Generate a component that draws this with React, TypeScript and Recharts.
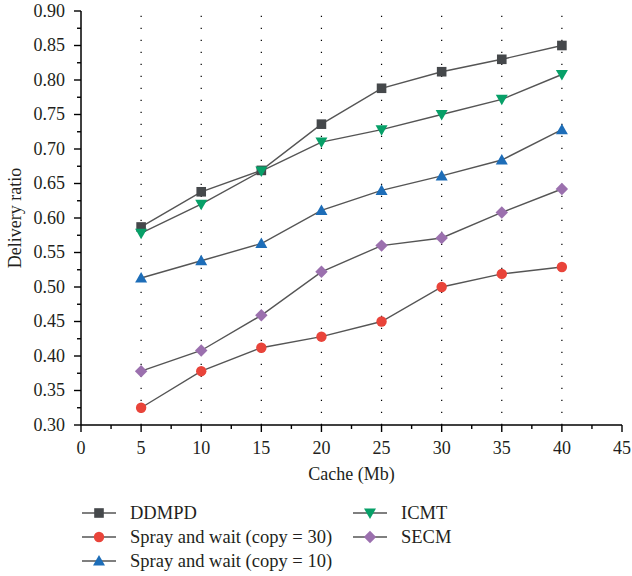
import React from "react";
import { LineChart, Line, XAxis, YAxis, ReferenceLine } from "recharts";

// ---- data ----
const cache = [5, 10, 15, 20, 25, 30, 35, 40];
const ddmpd = [0.587, 0.638, 0.669, 0.736, 0.788, 0.812, 0.83, 0.85];
const spray30 = [0.325, 0.378, 0.412, 0.428, 0.45, 0.5, 0.519, 0.529];
const spray10 = [0.513, 0.538, 0.563, 0.611, 0.64, 0.661, 0.684, 0.728];
const icmt = [0.578, 0.62, 0.668, 0.71, 0.728, 0.75, 0.772, 0.808];
const secm = [0.378, 0.408, 0.459, 0.522, 0.56, 0.571, 0.608, 0.642];

const xTicks = [0, 2.5, 5, 7.5, 10, 12.5, 15, 17.5, 20, 22.5, 25, 27.5, 30, 32.5, 35, 37.5, 40, 42.5, 45];
const yTicks = [
    0.3, 0.325, 0.35, 0.375, 0.4, 0.425, 0.45, 0.475, 0.5, 0.525, 0.55, 0.575, 0.6,
    0.625, 0.65, 0.675, 0.7, 0.725, 0.75, 0.775, 0.8, 0.825, 0.85, 0.875, 0.9,
];
const gridX = [5, 10, 15, 20, 25, 30, 35, 40];

type Shape = "square" | "circle" | "up" | "down" | "diamond";

const series: { key: string; name: string; values: number[]; color: string; shape: Shape }[] = [
    { key: "ddmpd", name: "DDMPD", values: ddmpd, color: "#45484b", shape: "square" },
    { key: "spray30", name: "Spray and wait (copy = 30)", values: spray30, color: "#e9443a", shape: "circle" },
    { key: "spray10", name: "Spray and wait (copy = 10)", values: spray10, color: "#1d6db8", shape: "up" },
    { key: "icmt", name: "ICMT", values: icmt, color: "#07a068", shape: "down" },
    { key: "secm", name: "SECM", values: secm, color: "#9b70ae", shape: "diamond" },
];

const data = cache.map((c, i) => {
    const row: Record<string, number> = { cache: c };
    series.forEach((s) => (row[s.key] = s.values[i]));
    return row;
});

const FONT = "'Liberation Serif', 'Times New Roman', serif";
const TXT = "#231f20";

const isMajorX = (v: number) => v % 5 === 0;
const isMajorY = (v: number) => Math.abs(v * 20 - Math.round(v * 20)) < 1e-6;

// ---- markers ----
const Marker = ({ cx, cy, shape, color }: { cx: number; cy: number; shape: Shape; color: string }) => {
    if (cx == null || cy == null) return null;
    switch (shape) {
        case "square":
            return <rect x={cx - 4.8} y={cy - 4.8} width={9.6} height={9.6} fill={color} />;
        case "circle":
            return <circle cx={cx} cy={cy} r={5.2} fill={color} />;
        case "up":
            return <polygon points={`${cx},${cy - 6} ${cx - 6},${cy + 4.5} ${cx + 6},${cy + 4.5}`} fill={color} />;
        case "down":
            return <polygon points={`${cx},${cy + 6} ${cx - 6},${cy - 4.5} ${cx + 6},${cy - 4.5}`} fill={color} />;
        default:
            return <polygon points={`${cx},${cy - 6.2} ${cx + 6.2},${cy} ${cx},${cy + 6.2} ${cx - 6.2},${cy}`} fill={color} />;
    }
};

// ---- axis ticks ----
const BottomTick = (p: any) => {
    const v = p.payload.value;
    const major = isMajorX(v);
    return (
        <g>
            <line x1={p.x} y1={p.y} x2={p.x} y2={p.y + (major ? 7 : 4)} stroke="#000" strokeWidth={1.4} />
            {major && (
                <text x={p.x} y={p.y + 29} textAnchor="middle" fontFamily={FONT} fontSize={18} fill={TXT}>
                    {v}
                </text>
            )}
        </g>
    );
};

const TopTick = (p: any) => {
    const major = isMajorX(p.payload.value);
    return <line x1={p.x} y1={p.y} x2={p.x} y2={p.y + (major ? 6 : 4)} stroke="#000" strokeWidth={1.4} />;
};

const LeftTick = (p: any) => {
    const v = p.payload.value;
    const major = isMajorY(v);
    return (
        <g>
            <line x1={p.x - (major ? 7 : 4)} y1={p.y} x2={p.x} y2={p.y} stroke="#000" strokeWidth={1.4} />
            {major && (
                <text x={p.x - 16} y={p.y + 5.8} textAnchor="end" fontFamily={FONT} fontSize={18} fill={TXT}>
                    {v.toFixed(2)}
                </text>
            )}
        </g>
    );
};

const RightTick = (p: any) => {
    const major = isMajorY(p.payload.value);
    return <line x1={p.x - (major ? 6 : 4)} y1={p.y} x2={p.x} y2={p.y} stroke="#000" strokeWidth={1.4} />;
};

const xLabel = (props: any) => {
    const vb = props.viewBox;
    return (
        <text x={vb.x + vb.width / 2} y={vb.y + 55} textAnchor="middle" fontFamily={FONT} fontSize={18} fill={TXT}>
            Cache (Mb)
        </text>
    );
};

const yLabel = (props: any) => {
    const vb = props.viewBox;
    const cy = vb.y + vb.height / 2;
    return (
        <text x={21} y={cy} transform={`rotate(-90, 21, ${cy})`} textAnchor="middle" fontFamily={FONT} fontSize={18} fill={TXT}>
            Delivery ratio
        </text>
    );
};

// ---- legend ----
const legendPos = [
    { x: 82, y: 17 },
    { x: 82, y: 41 },
    { x: 82, y: 65 },
    { x: 353, y: 17 },
    { x: 353, y: 41 },
];

const ChartLegend = () => (
    <svg width={632} height={80} style={{ position: "absolute", left: 0, top: 496 }}>
        {series.map((s, i) => {
            const pos = legendPos[i];
            return (
                <g key={s.key}>
                    <line x1={pos.x} y1={pos.y} x2={pos.x + 34} y2={pos.y} stroke="#555" strokeWidth={1.4} />
                    <Marker cx={pos.x + 17} cy={pos.y} shape={s.shape} color={s.color} />
                    <text x={pos.x + 48} y={pos.y + 6} fontFamily={FONT} fontSize={18.5} fill={TXT}>
                        {s.name}
                    </text>
                </g>
            );
        })}
    </svg>
);

export default function App() {
    return (
        <div style={{ position: "absolute", left: 0, top: 0, width: 632, height: 576, background: "#fff" }}>
            <LineChart width={632} height={576} data={data} margin={{ top: 11, right: 10, bottom: 91, left: 0 }}>
                <XAxis
                    xAxisId="b"
                    dataKey="cache"
                    type="number"
                    domain={[0, 45]}
                    ticks={xTicks}
                    interval={0}
                    tickSize={0}
                    tickMargin={0}
                    tickLine={false}
                    tick={BottomTick}
                    height={60}
                    axisLine={{ stroke: "#000", strokeWidth: 1.5 }}
                    label={xLabel}
                />
                <XAxis
                    xAxisId="t"
                    orientation="top"
                    dataKey="cache"
                    type="number"
                    domain={[0, 45]}
                    ticks={xTicks}
                    interval={0}
                    tickSize={0}
                    tickMargin={0}
                    tickLine={false}
                    tick={TopTick}
                    height={0}
                    axisLine={{ stroke: "#000", strokeWidth: 1.5 }}
                />
                <YAxis
                    yAxisId="l"
                    type="number"
                    domain={[0.3, 0.9]}
                    ticks={yTicks}
                    interval={0}
                    tickSize={0}
                    tickMargin={0}
                    tickLine={false}
                    tick={LeftTick}
                    width={81}
                    axisLine={{ stroke: "#000", strokeWidth: 1.5 }}
                    label={yLabel}
                />
                <YAxis
                    yAxisId="r"
                    orientation="right"
                    type="number"
                    domain={[0.3, 0.9]}
                    ticks={yTicks}
                    interval={0}
                    tickSize={0}
                    tickMargin={0}
                    tickLine={false}
                    tick={RightTick}
                    width={0}
                    axisLine={{ stroke: "#000", strokeWidth: 1.5 }}
                />
                {gridX.map((g) => (
                    <ReferenceLine
                        key={g}
                        x={g}
                        xAxisId="b"
                        yAxisId="l"
                        stroke="#000"
                        strokeWidth={1.2}
                        strokeDasharray="1.2 10.8"
                    />
                ))}
                {series.map((s) => (
                    <Line
                        key={s.key}
                        xAxisId="b"
                        yAxisId="l"
                        dataKey={s.key}
                        name={s.name}
                        stroke="#555"
                        strokeWidth={1.4}
                        isAnimationActive={false}
                        dot={(p: any) => (
                            <Marker key={`${s.key}-${p.index}`} cx={p.cx} cy={p.cy} shape={s.shape} color={s.color} />
                        )}
                        activeDot={false}
                    />
                ))}
            </LineChart>
            <ChartLegend />
        </div>
    );
}
